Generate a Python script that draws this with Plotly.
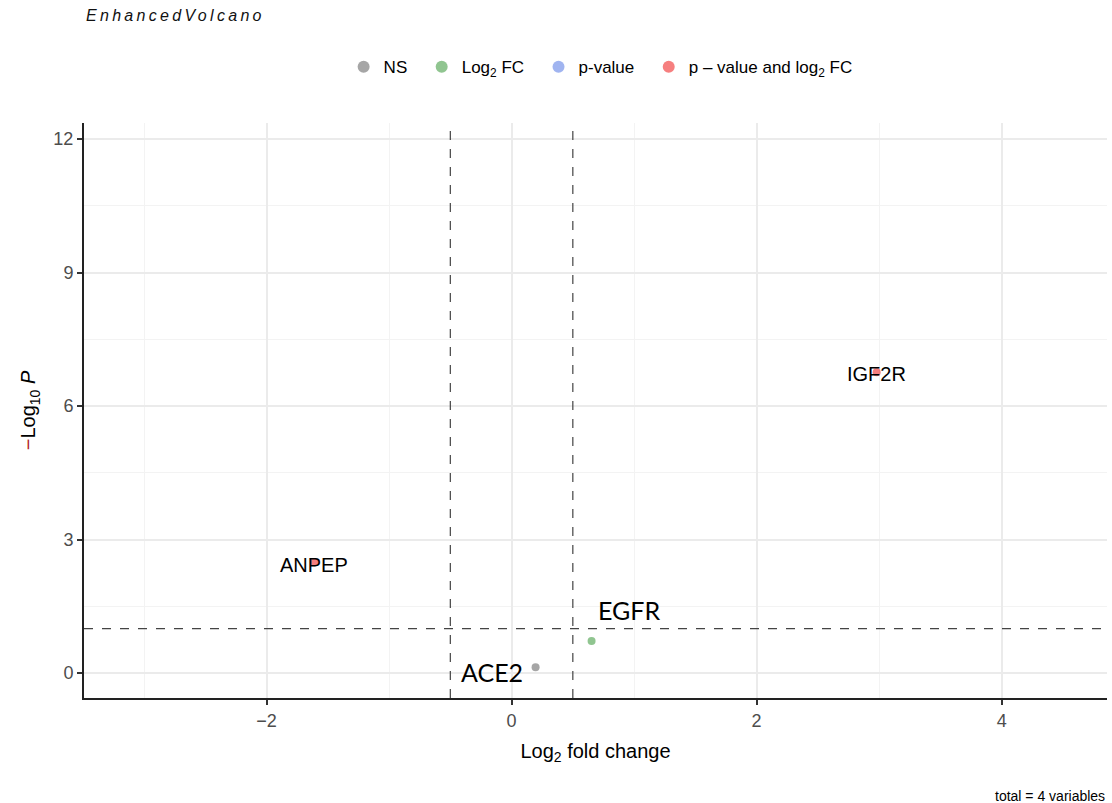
import plotly.graph_objects as go

genes = ["ACE2", "EGFR", "ANPEP", "IGF2R"]
log2fc = [0.196, 0.653, -1.61, 2.98]
neglog10p = [0.13, 0.72, 2.49, 6.76]
groups = ["NS", "Log2 FC", "p-value and log2 FC", "p-value and log2 FC"]

legend_keys = ["NS", "Log2 FC", "p-value", "p-value and log2 FC"]
legend_names = ["NS  ", "Log<sub>2</sub> FC  ", "p-value  ", "p \u2013 value and log<sub>2</sub> FC"]
legend_colors = ["rgba(77,77,77,0.5)", "rgba(34,139,34,0.5)", "rgba(65,105,225,0.5)", "rgba(238,0,0,0.5)"]

fc_cut = 0.5
p_cut = 1.0
x_ticks = [-2, 0, 2, 4]
y_ticks = [0, 3, 6, 9, 12]

fig = go.Figure()
for key, name, col in zip(legend_keys, legend_names, legend_colors):
    xs = [x for x, g in zip(log2fc, groups) if g == key]
    ys = [y for y, g in zip(neglog10p, groups) if g == key]
    if not xs:
        xs, ys = [None], [None]
    fig.add_trace(go.Scatter(x=xs, y=ys, mode="markers", name=name,
                             marker=dict(color=col, size=8, line=dict(width=0))))

label_style = {
    "ANPEP": dict(xshift=0, yshift=-3, family="Arial, Liberation Sans", size=20),
    "IGF2R": dict(xshift=0, yshift=-2, family="Arial, Liberation Sans", size=20),
    "EGFR": dict(xshift=37, yshift=31, family="Lato", size=25),
    "ACE2": dict(xshift=-44, yshift=-5, family="Lato", size=25),
}
for g, x, y in zip(genes, log2fc, neglog10p):
    s = label_style[g]
    fig.add_annotation(x=x, y=y, text=g, showarrow=False, xshift=s["xshift"], yshift=s["yshift"],
                       font=dict(family=s["family"], size=s["size"], color="black"))

for xv in [-fc_cut, fc_cut]:
    fig.add_shape(type="line", x0=xv, x1=xv, y0=0, y1=1, xref="x", yref="paper",
                  line=dict(color="#444", width=1.2, dash="dash"))
fig.add_shape(type="line", x0=0, x1=1, y0=p_cut, y1=p_cut, xref="paper", yref="y",
              line=dict(color="#444", width=1.2, dash="dash"))

fig.add_annotation(xref="paper", yref="paper", x=0.0, y=1.206, xanchor="left", yanchor="top",
                   text="<span style='letter-spacing:3.3px'><i>EnhancedVolcano</i></span>", showarrow=False,
                   font=dict(family="Arial, Liberation Sans", size=16, color="#111"))
fig.add_annotation(xref="paper", yref="paper", x=1.0, y=-0.153, xanchor="right", yanchor="top",
                   text="total = 4 variables", showarrow=False,
                   font=dict(family="Arial, Liberation Sans", size=14, color="black"))

axis_common = dict(showline=True, linecolor="#222", linewidth=2, ticks="outside", ticklen=5,
                   tickwidth=1.5, tickcolor="#333", zeroline=False, gridcolor="#ebebeb",
                   gridwidth=1.6, tickfont=dict(family="Arial, Liberation Sans", size=18, color="#4d4d4d"),
                   mirror=False)

fig.update_layout(
    width=1112, height=803,
    paper_bgcolor="white", plot_bgcolor="white",
    margin=dict(l=84, r=5, t=123, b=105),
    font=dict(family="Arial, Liberation Sans", color="black"),
    xaxis=dict(range=[-3.49, 4.86], tickvals=x_ticks,
               ticktext=[("\u2212" + str(-v)) if v < 0 else str(v) for v in x_ticks],
               minor=dict(dtick=1, tick0=1, gridcolor="#f3f3f3", gridwidth=1, showgrid=True, ticks=""),
               title=dict(text="Log<sub>2</sub> fold change", font=dict(size=20, color="black"), standoff=14),
               **axis_common),
    yaxis=dict(range=[-0.56, 12.36], tickvals=y_ticks,
               minor=dict(dtick=1.5, tick0=1.5, gridcolor="#f3f3f3", gridwidth=1, showgrid=True, ticks=""),
               title=dict(text="<span style='color:#b22222'>\u2212</span>Log<sub>10</sub> <i>P</i>",
                          font=dict(size=20, color="black"), standoff=12),
               **axis_common),
    legend=dict(orientation="h", x=0.505, xanchor="center", y=1.097, yanchor="middle",
                font=dict(size=17, color="black"), itemsizing="constant", bgcolor="rgba(0,0,0,0)",
                traceorder="normal"),
    showlegend=True,
)

fig.write_html("out.html", config={"displayModeBar": False},
               post_script="document.body.style.margin='0';")
